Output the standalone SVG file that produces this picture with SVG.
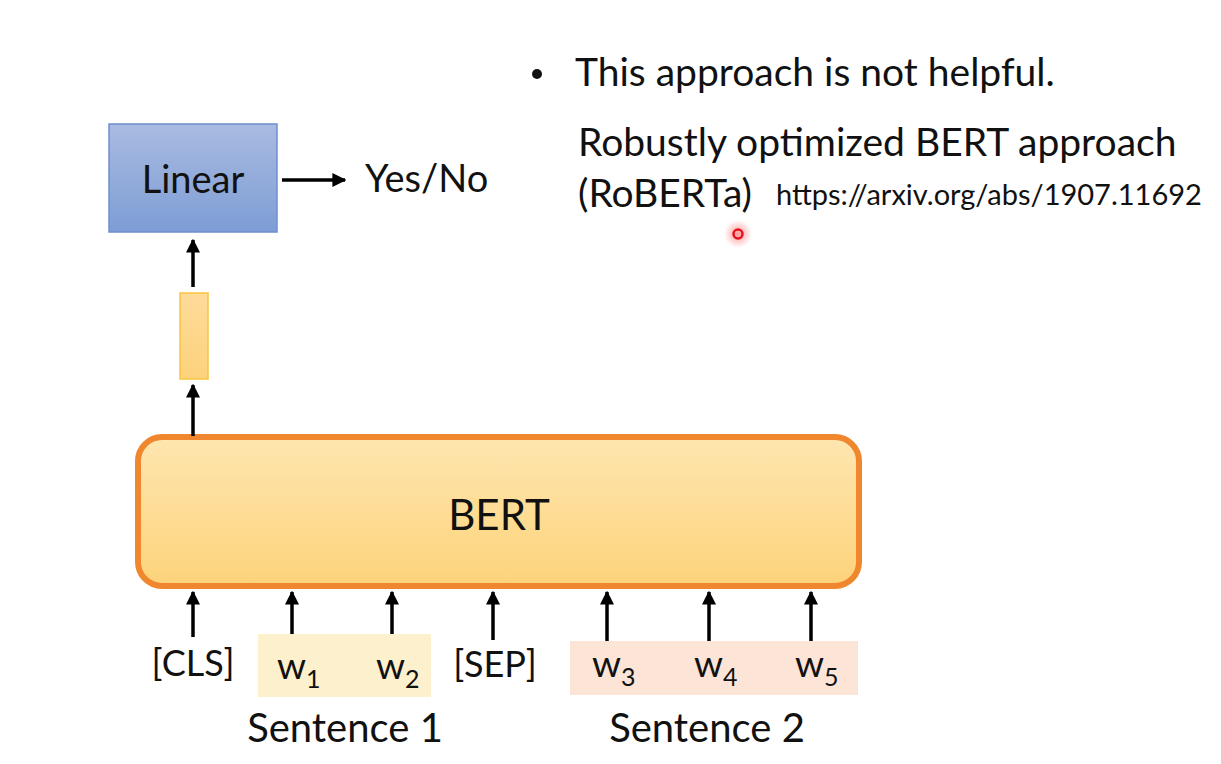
<svg xmlns="http://www.w3.org/2000/svg" width="1221" height="764" viewBox="0 0 1221 764">
<defs>
<linearGradient id="gBlue" x1="0" y1="0" x2="0" y2="1"><stop offset="0" stop-color="#a9bbe1"/><stop offset="1" stop-color="#7e9dd5"/></linearGradient>
<linearGradient id="gBert" x1="0" y1="0" x2="0" y2="1"><stop offset="0" stop-color="#fee6b0"/><stop offset="1" stop-color="#fdd37a"/></linearGradient>
<linearGradient id="gVec" x1="0" y1="0" x2="0" y2="1"><stop offset="0" stop-color="#fedb9a"/><stop offset="1" stop-color="#fdd27c"/></linearGradient>
<radialGradient id="gLaser"><stop offset="0" stop-color="#ff2020" stop-opacity="0.45"/><stop offset="1" stop-color="#ff2020" stop-opacity="0"/></radialGradient>
<marker id="ah" viewBox="0 0 10 10" refX="9" refY="5" markerWidth="4" markerHeight="4" orient="auto" markerUnits="strokeWidth"><path d="M0,0 L10,5 L0,10 z" fill="#000"/></marker>
</defs>
<style>
text{font-family:Lato,"Open Sans","Liberation Sans",sans-serif;fill:#111}
.lbl{font-size:38px}
.tok{font-size:36px;text-anchor:middle}
.sent{font-size:40px;text-anchor:middle}
.w{font-size:37px}
.sub{font-size:25px}
.big{font-size:39px}
.cn{stroke:#000;stroke-width:3.5;fill:none;marker-end:url(#ah)}
</style>
<rect width="1221" height="764" fill="#fff"/>
<g id="linear"><rect x="109" y="124" width="168" height="108" fill="url(#gBlue)" stroke="#6f8fd0" stroke-width="1.5"/><text x="193" y="193" class="lbl" text-anchor="middle">Linear</text></g>
<g id="yesno"><text x="365" y="192" class="lbl">Yes/No</text></g>
<g id="vec"><rect x="180" y="293" width="28" height="86" fill="url(#gVec)" stroke="#fbc33e" stroke-width="1.5"/></g>
<g id="bert"><rect x="138" y="437" width="721" height="149" rx="24" fill="url(#gBert)" stroke="#f0872f" stroke-width="6"/><text x="499" y="530" font-size="42" text-anchor="middle">BERT</text></g>
<g id="sent1"><rect x="258" y="634" width="173" height="63" fill="#fdf0cd"/><text x="345" y="742" class="sent">Sentence 1</text></g>
<g id="sent2"><rect x="570" y="641" width="288" height="54" fill="#fce4d6"/><text x="707" y="742" class="sent">Sentence 2</text></g>
<g id="tokens">
<text x="193" y="676" class="tok">[CLS]</text>
<text x="277" y="679" class="w">w<tspan class="sub" dy="9">1</tspan></text>
<text x="376" y="679" class="w">w<tspan class="sub" dy="9">2</tspan></text>
<text x="495" y="677" class="tok">[SEP]</text>
<text x="592" y="677" class="w">w<tspan class="sub" dy="9">3</tspan></text>
<text x="694" y="677" class="w">w<tspan class="sub" dy="9">4</tspan></text>
<text x="795" y="677" class="w">w<tspan class="sub" dy="9">5</tspan></text>
</g>
<g id="connectors">
<line x1="282" y1="180" x2="345" y2="180" class="cn"/>
<line x1="193" y1="287" x2="193" y2="240" class="cn"/>
<line x1="193" y1="436" x2="193" y2="385" class="cn"/>
<line x1="193" y1="637" x2="193" y2="592" class="cn"/>
<line x1="292" y1="634" x2="292" y2="592" class="cn"/>
<line x1="392" y1="634" x2="392" y2="592" class="cn"/>
<line x1="493" y1="640" x2="493" y2="592" class="cn"/>
<line x1="607" y1="641" x2="607" y2="592" class="cn"/>
<line x1="709" y1="641" x2="709" y2="592" class="cn"/>
<line x1="811" y1="641" x2="811" y2="592" class="cn"/>
</g>
<g id="notes">
<circle cx="537" cy="74" r="5" fill="#111"/>
<text x="575" y="86" class="big">This approach is not helpful.</text>
<text x="578" y="156" class="big">Robustly optimized BERT approach</text>
<text x="578" y="207" class="big">(RoBERTa)</text>
<text x="776" y="205" font-size="29">https://arxiv.org/abs/1907.11692</text>
</g>
<g id="laser"><circle cx="738" cy="234" r="14" fill="url(#gLaser)"/><circle cx="738" cy="234" r="4.5" fill="none" stroke="#e8101a" stroke-width="2.5"/></g>
</svg>
